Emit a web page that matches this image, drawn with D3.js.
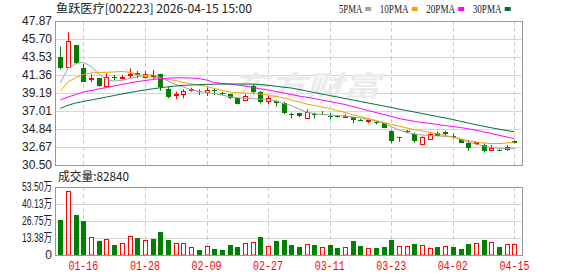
<!DOCTYPE html>
<html>
<head>
<meta charset="utf-8">
<script src="https://cdn.jsdelivr.net/npm/d3@7"></script>
<style>
body { margin: 0; background: #fff; }
svg { display: block; }
</style>
</head>
<body>
<svg id="chart" width="578" height="276"></svg>
<script>
var title = "鱼跃医疗[002223] 2026-04-15 15:00";

var dates = ["01-13","01-14","01-15","01-16","01-19","01-20","01-21","01-22","01-23","01-26",
             "01-27","01-28","01-29","01-30","02-02","02-03","02-04","02-05","02-06","02-09",
             "02-10","02-11","02-12","02-13","02-24","02-25","02-26","02-27","03-02","03-03",
             "03-04","03-05","03-06","03-09","03-10","03-11","03-12","03-13","03-16","03-17",
             "03-18","03-19","03-20","03-23","03-24","03-25","03-26","03-27","03-30","03-31",
             "04-01","04-02","04-03","04-07","04-08","04-09","04-10","04-13","04-14","04-15"];

var open  = [43.56,42.36,44.97,42.20,40.90,40.96,40.07,41.15,40.98,41.30,
             41.56,41.15,41.26,41.44,39.63,38.95,39.03,39.55,39.43,39.31,
             39.60,39.22,39.03,38.55,38.34,39.97,39.34,38.26,38.22,37.94,
             36.60,36.74,36.20,36.62,36.65,36.45,36.43,36.25,36.25,35.97,
             35.85,35.66,35.53,34.64,33.85,34.55,34.20,32.99,33.60,34.32,
             34.52,33.95,33.60,33.19,33.12,32.91,32.31,32.35,32.43,33.43];
var high  = [44.77,46.51,44.97,42.68,41.44,41.00,41.56,41.36,41.36,42.16,
             41.84,41.84,41.96,41.50,39.94,39.34,39.63,39.83,39.63,39.85,
             39.68,39.34,39.05,38.60,39.03,40.23,39.40,38.82,38.30,38.14,
             36.81,36.81,37.22,36.81,37.00,36.74,36.50,36.62,36.30,36.10,
             35.95,35.80,35.55,34.70,33.91,34.72,34.40,33.95,34.40,34.52,
             34.64,34.32,33.62,33.52,33.31,33.12,32.91,32.40,32.91,33.50];
var low   = [42.04,42.30,42.65,40.50,40.47,39.95,39.94,40.75,40.84,40.99,
             40.96,40.96,40.87,39.46,38.55,38.43,38.55,39.34,38.94,38.82,
             38.94,38.94,38.43,37.80,38.26,39.15,37.94,37.82,37.53,36.65,
             36.13,36.25,36.13,36.13,36.55,36.01,36.20,36.20,35.53,35.85,
             35.53,35.40,34.98,33.12,33.31,34.32,33.19,32.88,33.60,34.00,
             34.03,33.64,33.15,32.19,32.91,31.98,32.22,32.22,32.22,33.10];
var close = [42.16,45.46,42.77,40.55,41.00,40.03,41.08,40.96,41.10,41.42,
             41.36,41.44,41.36,39.94,38.74,39.05,39.43,39.63,39.30,39.55,
             39.46,39.10,38.62,37.86,38.82,39.31,38.14,38.62,38.02,36.74,
             36.50,36.41,36.86,36.55,36.60,36.40,36.38,36.41,35.93,35.90,
             35.93,35.60,35.00,33.40,33.80,34.50,33.43,33.91,34.20,34.03,
             34.25,33.88,33.19,32.59,33.24,32.19,32.59,32.30,32.71,33.12];

var volume = [274000,501000,313000,266000,139000,110000,123000,78000,91000,146000,
              133000,115000,123000,180000,117000,91000,91000,60000,39000,68000,
              47000,39000,78000,63000,91000,102000,141000,70000,112000,117000,
              78000,60000,84000,78000,60000,78000,55000,60000,110000,70000,
              52000,55000,63000,117000,68000,68000,86000,76000,52000,60000,
              70000,63000,45000,86000,94000,117000,102000,60000,84000,82840];

var ma5  = [40.43,42.14,42.74,42.89,42.38,41.48,40.81,40.63,40.72,40.93,
            41.14,41.33,41.38,41.05,40.63,40.21,39.91,39.57,39.37,39.25,
            39.12,38.94,38.73,38.61,38.55,38.49,38.43,38.40,38.22,37.92,
            37.68,37.26,36.89,36.68,36.59,36.53,36.47,36.41,36.29,36.17,
            35.99,35.81,35.57,35.14,34.72,34.42,34.24,34.12,34.06,34.00,
            33.96,33.88,33.58,33.27,33.03,32.79,32.61,32.51,32.49,32.51];
var ma10 = [39.43,40.51,41.05,41.42,41.60,41.66,41.68,41.72,41.78,41.68,
            41.42,41.17,41.08,40.96,40.81,40.69,40.45,40.29,40.15,39.97,
            39.73,39.51,39.31,39.21,39.18,39.15,39.06,38.94,38.76,38.61,
            38.34,38.10,37.86,37.68,37.50,37.32,37.07,36.83,36.59,36.35,
            36.11,35.87,35.63,35.41,35.20,34.96,34.78,34.60,34.42,34.26,
            34.06,33.88,33.66,33.45,33.27,33.15,33.09,33.09,33.15,33.27];
var ma20 = [38.34,38.70,39.00,39.31,39.49,39.67,39.85,40.03,40.21,40.39,
            40.55,40.69,40.81,40.91,40.97,41.02,41.02,40.99,40.93,40.75,
            40.45,40.33,40.25,40.15,40.03,39.85,39.69,39.55,39.37,39.18,
            39.00,38.82,38.67,38.52,38.34,38.16,37.98,37.80,37.56,37.32,
            37.07,36.83,36.59,36.35,36.11,35.93,35.77,35.63,35.51,35.39,
            35.26,35.14,35.02,34.87,34.70,34.50,34.30,34.09,33.88,33.67];
var ma30 = [37.34,37.70,37.98,38.16,38.34,38.52,38.70,38.88,39.06,39.24,
            39.40,39.55,39.69,39.82,39.93,40.03,40.10,40.15,40.19,40.22,
            40.25,40.27,40.27,40.27,40.27,40.26,40.20,40.11,40.00,39.88,
            39.79,39.61,39.43,39.24,39.06,38.88,38.70,38.52,38.34,38.16,
            37.98,37.80,37.62,37.44,37.25,37.07,36.89,36.71,36.53,36.35,
            36.17,35.99,35.77,35.57,35.36,35.17,34.99,34.82,34.66,34.50];

var priceTicks = [30.50,32.67,34.84,37.01,39.19,41.36,43.53,45.70,47.87];
var volTicks = [0,133750,267500,401250,535000];
var volTickLabels = ["0","13.38万","26.75万","40.13万","53.50万"];
var dateTicks = ["01-16","01-28","02-09","02-27","03-11","03-23","04-02","04-15"];

var maNames = ["5PMA","10PMA","20PMA","30PMA"];
var maColors = ["#a0a0a0","#f4a300","#ff00ff","#00703c"];

var up = "#ff0000", down = "#008000";
var left = 55, right = 522;
var mainTop = 21, mainBottom = 165;
var volTop = 187, volBottom = 255;

var svg = d3.select("#chart");

var x = d3.scalePoint().domain(dates).range([60.3, 514.4]);
var y = d3.scaleLinear().domain([30.50, 47.87]).range([mainBottom, mainTop]);
var yv = d3.scaleLinear().domain([0, 535000]).range([volBottom, volTop]);

function cx(d) { return Math.round(x(d)); }
function py(v) { return Math.round(y(v)); }

// grid, main panel
var gMain = svg.append("g");
gMain.selectAll(".hg").data(priceTicks.slice(1, -1)).enter().append("line")
    .attr("x1", left).attr("x2", right)
    .attr("y1", d => py(d) + 0.5).attr("y2", d => py(d) + 0.5)
    .attr("stroke", "#d6d6d6");
gMain.selectAll(".vg").data(dateTicks).enter().append("line")
    .attr("x1", d => cx(d) + 0.5).attr("x2", d => cx(d) + 0.5)
    .attr("y1", mainTop).attr("y2", mainBottom)
    .attr("stroke", "#cccccc").attr("stroke-dasharray", "4,3");

// watermark
svg.append("text")
    .attr("x", 232).attr("y", 96)
    .attr("textLength", 148).attr("lengthAdjust", "spacingAndGlyphs")
    .style("font-family", "'Noto Sans CJK SC'").style("font-size", "28px")
    .style("font-weight", "bold").style("font-style", "italic")
    .attr("fill", "#ebebeb")
    .text("东方财富");

// grid, volume panel
var gVol = svg.append("g");
gVol.selectAll(".hg").data(volTicks.slice(1, -1)).enter().append("line")
    .attr("x1", left).attr("x2", right)
    .attr("y1", d => Math.round(yv(d)) + 0.5).attr("y2", d => Math.round(yv(d)) + 0.5)
    .attr("stroke", "#d6d6d6");
gVol.selectAll(".vg").data(dateTicks).enter().append("line")
    .attr("x1", d => cx(d) + 0.5).attr("x2", d => cx(d) + 0.5)
    .attr("y1", volTop).attr("y2", volBottom)
    .attr("stroke", "#cccccc").attr("stroke-dasharray", "4,3");

// candles
var idx = d3.range(dates.length);
var candle = svg.append("g").selectAll("g").data(idx).enter().append("g");

candle.append("line")
    .attr("x1", i => cx(dates[i]) + 0.5).attr("x2", i => cx(dates[i]) + 0.5)
    .attr("y1", i => y(high[i])).attr("y2", i => y(low[i]))
    .attr("stroke", i => close[i] >= open[i] ? up : down);

candle.append("rect")
    .attr("x", i => close[i] >= open[i] ? cx(dates[i]) - 1.5 : cx(dates[i]) - 2)
    .attr("width", i => close[i] >= open[i] ? 4 : 5)
    .attr("y", function(i) {
        var t = py(Math.max(open[i], close[i]));
        return close[i] >= open[i] ? t + 0.5 : t;
    })
    .attr("height", function(i) {
        var h = py(Math.min(open[i], close[i])) - py(Math.max(open[i], close[i]));
        return close[i] >= open[i] ? Math.max(h, 0) : Math.max(h, 1);
    })
    .attr("fill", i => close[i] >= open[i] ? "#fff" : down)
    .attr("stroke", i => close[i] >= open[i] ? up : "none");

// moving averages
var mas = [ma5, ma10, ma20, ma30];
var line = d3.line().x((d, i) => x(dates[i])).y(d => y(d));
svg.append("g").selectAll("path").data(mas).enter().append("path")
    .attr("d", d => line(d))
    .attr("fill", "none")
    .attr("stroke", (d, i) => maColors[i])
    .attr("stroke-width", 1);

// volume bars (colour by change against previous close)
function volUp(i) { return i === 0 ? close[i] >= open[i] : close[i] >= close[i - 1]; }
svg.append("g").selectAll("rect").data(idx).enter().append("rect")
    .attr("x", i => volUp(i) ? cx(dates[i]) - 1.5 : cx(dates[i]) - 2)
    .attr("width", i => volUp(i) ? 4 : 5)
    .attr("y", i => Math.round(yv(volume[i])) + (volUp(i) ? 0.5 : 0))
    .attr("height", i => volBottom - Math.round(yv(volume[i])) - (volUp(i) ? 0.5 : 0))
    .attr("fill", i => volUp(i) ? "#fff" : down)
    .attr("stroke", i => volUp(i) ? up : "none");

// frames
svg.append("rect").attr("x", left + 0.5).attr("y", mainTop + 0.5)
    .attr("width", right - left).attr("height", mainBottom - mainTop)
    .attr("fill", "none").attr("stroke", "#999");
svg.append("rect").attr("x", left + 0.5).attr("y", volTop + 0.5)
    .attr("width", right - left).attr("height", volBottom - volTop)
    .attr("fill", "none").attr("stroke", "#999");

// y labels
svg.append("g").selectAll("text").data(priceTicks).enter().append("text")
    .attr("x", 52).attr("y", d => y(d)).attr("dy", "0.36em")
    .attr("text-anchor", "end")
    .style("font-family", "'Liberation Sans', Arial, sans-serif").style("font-size", "12px")
    .attr("fill", "#222")
    .text(d => d.toFixed(2));

svg.append("g").selectAll("text").data(volTicks).enter().append("text")
    .attr("x", 52).attr("y", d => yv(d)).attr("dy", "0.36em")
    .attr("text-anchor", "end")
    .attr("textLength", (d, i) => i === 0 ? null : 30)
    .attr("lengthAdjust", "spacingAndGlyphs")
    .style("font-family", "'Liberation Sans', 'Noto Sans CJK SC', sans-serif").style("font-size", "12px")
    .attr("fill", "#222")
    .text((d, i) => volTickLabels[i]);

// x labels
svg.append("g").selectAll("text").data(dateTicks).enter().append("text")
    .attr("x", d => x(d)).attr("y", 270)
    .attr("text-anchor", "middle")
    .attr("textLength", 30).attr("lengthAdjust", "spacingAndGlyphs")
    .style("font-family", "'Liberation Mono', monospace").style("font-size", "12px")
    .attr("fill", up)
    .text(d => d);

// title
svg.append("text")
    .attr("x", 56).attr("y", 13)
    .attr("textLength", 196).attr("lengthAdjust", "spacingAndGlyphs")
    .style("font-family", "'Noto Sans CJK SC', sans-serif").style("font-size", "12px")
    .attr("fill", "#222")
    .text(title);

// legend
var lx = 339;
maNames.forEach(function(n, i) {
    var w = n.length * 5.8;
    svg.append("text").attr("x", lx).attr("y", 13)
        .attr("textLength", w).attr("lengthAdjust", "spacingAndGlyphs")
        .style("font-family", "'Liberation Serif', serif").style("font-size", "12px")
        .attr("fill", "#222").text(n);
    svg.append("rect").attr("x", lx + w + 3).attr("y", 7).attr("width", 6).attr("height", 4)
        .attr("fill", maColors[i]);
    lx += w + 3 + 6 + 8.5;
});

// volume caption
svg.append("text")
    .attr("x", 58).attr("y", 181)
    .attr("textLength", 71).attr("lengthAdjust", "spacingAndGlyphs")
    .style("font-family", "'Noto Sans CJK SC', sans-serif").style("font-size", "12px")
    .attr("fill", "#222")
    .text("成交量:" + volume[volume.length - 1]);
</script>
</body>
</html>
